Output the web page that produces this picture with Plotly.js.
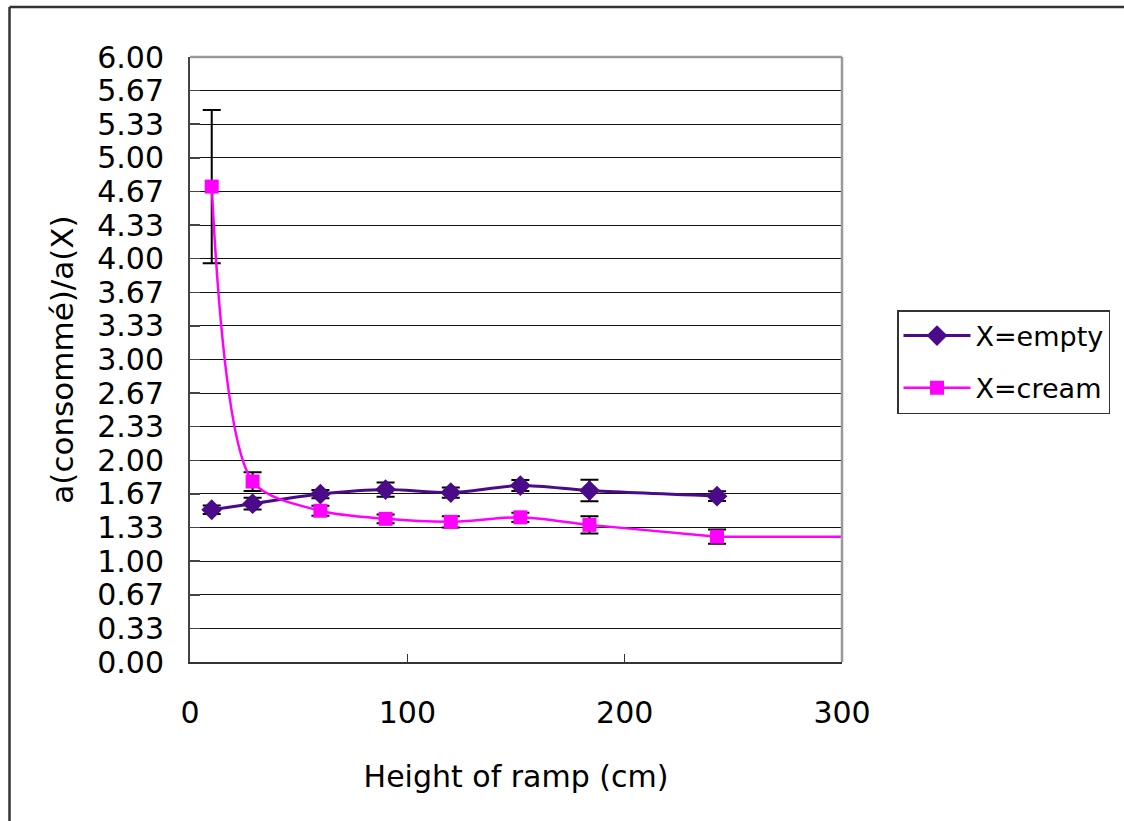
<!DOCTYPE html>
<html>
<head>
<meta charset="utf-8">
<script src="https://cdn.plot.ly/plotly-3.0.1.min.js"></script>
<style>
  html, body { margin: 0; padding: 0; background: #fff; }
  #chart { width: 1124px; height: 821px; }
</style>
</head>
<body>
<div id="chart"></div>
<script>
// ---- data ----
const heights = [10, 28.8, 60, 90, 120, 152, 183.8, 242.5];

const emptyValues = [1.51, 1.57, 1.665, 1.71, 1.68, 1.75, 1.70, 1.645];
const emptyErrors = [0.043, 0.058, 0.04, 0.07, 0.05, 0.055, 0.107, 0.048];

const creamValues = [4.715, 1.79, 1.50, 1.42, 1.39, 1.435, 1.36, 1.243];
const creamErrors = [0.76, 0.093, 0.05, 0.043, 0.056, 0.046, 0.086, 0.071];

// flat continuation of the cream curve past the last point
const creamTailX = [242.5, 303];
const creamTailY = [1.243, 1.243];

const xTickValues = [0, 100, 200, 300];
const yTickLabels = ["0.00","0.33","0.67","1.00","1.33","1.67","2.00","2.33","2.67",
                     "3.00","3.33","3.67","4.00","4.33","4.67","5.00","5.33","5.67","6.00"];
const yTickValues = yTickLabels.map((_, i) => i / 3);

const seriesNames = ["X=empty", "X=cream"];
const xTitle = "Height of ramp (cm)";
const yTitle = "a(consommé)/a(X)";

// ---- styling ----
const FONT = "DejaVu Sans, sans-serif";
const PURPLE = "#4B0A8A";
const MAGENTA = "#FF00FF";

const traces = [
  {
    x: heights, y: emptyValues, name: seriesNames[0],
    type: "scatter", mode: "lines+markers",
    legendgroup: "a",
    line: { color: PURPLE, width: 3, shape: "spline", smoothing: 0.8 },
    marker: { symbol: "diamond", size: 16, color: PURPLE },
    error_y: { type: "data", array: emptyErrors, visible: true,
               color: "#000", thickness: 2, width: 9 }
  },
  {
    x: heights, y: creamValues, name: seriesNames[1],
    type: "scatter", mode: "lines+markers",
    legendgroup: "b",
    line: { color: MAGENTA, width: 2.5, shape: "spline", smoothing: 0.8 },
    marker: { symbol: "square", size: 14, color: MAGENTA },
    error_y: { type: "data", array: creamErrors, visible: true,
               color: "#000", thickness: 2, width: 9 }
  },
  {
    x: creamTailX, y: creamTailY, showlegend: false, hoverinfo: "skip",
    type: "scatter", mode: "lines",
    line: { color: MAGENTA, width: 2.5 }
  }
];

// pixel helpers for the plot area (190..842 x, 57..662 y)
const L = 190, R = 842, T = 57, B = 662;
const px2paperX = p => (p - L) / (R - L);
const px2paperY = p => (B - p) / (B - T);

const layout = {
  width: 1124, height: 821,
  margin: { l: L, r: 1124 - R, t: T, b: 821 - B },
  paper_bgcolor: "#fff", plot_bgcolor: "#fff",
  font: { family: FONT, size: 30, color: "#000" },
  showlegend: true,
  xaxis: {
    range: [0, 300], tickvals: xTickValues, ticktext: xTickValues.map(String),
    showgrid: false, zeroline: false,
    showline: true, linecolor: "#333", linewidth: 2,
    ticks: "inside", ticklen: 8, tickwidth: 1, tickcolor: "#333",
    ticklabelstandoff: 23,
    tickfont: { family: FONT, size: 30, color: "#000" },
    title: { text: xTitle, font: { family: FONT, size: 30, color: "#000" }, standoff: 37 },
    automargin: false
  },
  yaxis: {
    range: [0, 6], tickvals: yTickValues, ticktext: yTickLabels,
    showgrid: true, gridcolor: "#111", gridwidth: 1,
    zeroline: false,
    showline: true, linecolor: "#444", linewidth: 2,
    ticks: "inside", ticklen: 10, tickwidth: 1.5, tickcolor: "#444",
    ticklabelstandoff: 18,
    tickfont: { family: FONT, size: 30, color: "#000" },
    title: { text: yTitle, font: { family: FONT, size: 31, color: "#000" }, standoff: 14 },
    automargin: false
  },
  legend: {
    x: px2paperX(897), y: px2paperY(310), xanchor: "left", yanchor: "top",
    bgcolor: "#fff", bordercolor: "#333", borderwidth: 1.5,
    font: { family: FONT, size: 27, color: "#000" },
    traceorder: "grouped", tracegroupgap: 14,
    itemwidth: 67
  },
  shapes: [
    // gray border on top and right of the plot area
    { type: "line", xref: "paper", yref: "paper", x0: 0, x1: 1, y0: 1, y1: 1,
      line: { color: "#999", width: 2.5 } },
    { type: "line", xref: "paper", yref: "paper", x0: 1, x1: 1, y0: 0, y1: 1,
      line: { color: "#999", width: 2.5 } },
    // outer frame of the chart (top and left edges)
    { type: "line", xref: "paper", yref: "paper",
      x0: px2paperX(9.5), x1: px2paperX(1130), y0: px2paperY(7), y1: px2paperY(7),
      line: { color: "#333", width: 2.5 } },
    { type: "line", xref: "paper", yref: "paper",
      x0: px2paperX(9.5), x1: px2paperX(9.5), y0: px2paperY(7), y1: px2paperY(830),
      line: { color: "#333", width: 2.5 } }
  ]
};

Plotly.newPlot("chart", traces, layout, { staticPlot: true, displayModeBar: false });
</script>
</body>
</html>
